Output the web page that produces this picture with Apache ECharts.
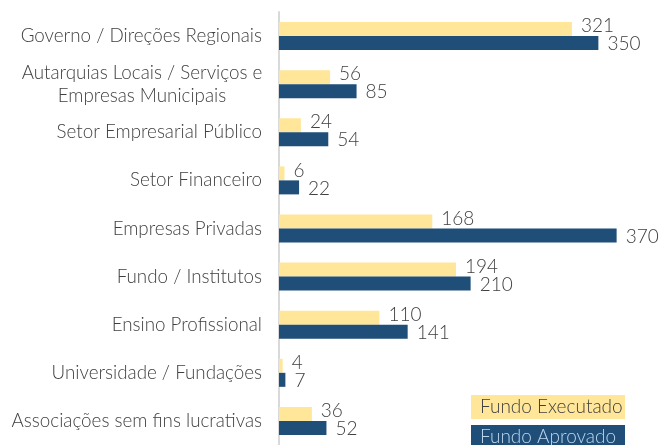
<!DOCTYPE html>
<html>
<head>
<meta charset="utf-8">
<script src="https://cdn.jsdelivr.net/npm/echarts@6/dist/echarts.min.js"></script>
<style>
html,body{margin:0;padding:0;background:#fff;}
#chart{width:664px;height:445px;}
</style>
</head>
<body>
<div id="chart"></div>
<script>
var categories=['Governo / Direções Regionais','Autarquias Locais / Serviços e Empresas Municipais','Setor Empresarial Público','Setor Financeiro','Empresas Privadas','Fundo / Institutos','Ensino Profissional','Universidade / Fundações','Associações sem fins lucrativas'];
var executado=[321,56,24,6,168,194,110,4,36];
var aprovado=[350,85,54,22,370,210,141,7,52];

var txt='#404040';
var chart=echarts.init(document.getElementById('chart'));
// legenda: duas caixas coloridas, uma por serie
function leg(name,top,bg,col){
	return {
		left:466,top:top,padding:0,itemWidth:0,itemHeight:0,icon:'rect',selectedMode:false,
		data:[{name:name,textStyle:{backgroundColor:bg,color:col,fontSize:19,fontWeight:300,
			lineHeight:24,height:24,width:145,padding:[0,0,0,9],fontFamily:'Lato'}}]
	};
}
chart.setOption({
	animation:false,
	textStyle:{fontFamily:'Lato'},
	grid:{left:279,right:20,top:12,bottom:-2,containLabel:false},
	xAxis:{type:'value',min:0,max:400,show:false},
	yAxis:{
		type:'category',data:categories,inverse:true,
		axisLine:{lineStyle:{color:'#D9D9D9',width:2}},
		axisTick:{show:false},
		axisLabel:{color:txt,fontSize:18.8,fontWeight:300,margin:17,lineHeight:23,fontFamily:'Lato',
			formatter:function(v){
				// rotulo longo em duas linhas centradas
				if(v.length>32){
					var i=v.indexOf(' ',29);
					return '{c|'+v.slice(0,i)+'}\n{c|'+v.slice(i+1)+'}';
				}
				return v;
			},
			rich:{c:{width:240,align:'center',fontSize:18.8,fontWeight:300,color:txt,lineHeight:23,fontFamily:'Lato'}}
		}
	},
	legend:[
		leg('Fundo Executado',395,'#FFE699',txt),
		leg('Fundo Aprovado',425,'#1F4E79','#BDD7EE')
	],
	series:[
		{name:'Fundo Executado',type:'bar',data:executado,barWidth:14,barGap:'0%',
			itemStyle:{color:'#FFE699'},
			label:{show:true,position:'right',distance:9,offset:[0,-3],color:txt,fontSize:19,fontWeight:300,fontFamily:'Lato'}},
		{name:'Fundo Aprovado',type:'bar',data:aprovado,barWidth:14,
			itemStyle:{color:'#1F4E79'},
			label:{show:true,position:'right',distance:9,offset:[0,1],color:txt,fontSize:19,fontWeight:300,fontFamily:'Lato'}}
	]
});
</script>
</body>
</html>
